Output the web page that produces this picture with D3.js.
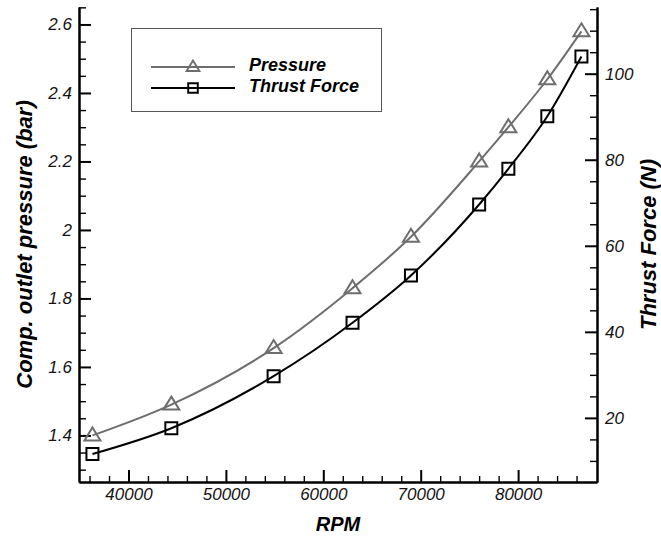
<!DOCTYPE html>
<html>
<head>
<meta charset="utf-8">
<script src="https://cdn.jsdelivr.net/npm/d3@7"></script>
<style>
  html, body { margin: 0; padding: 0; background: #fff; }
  svg { display: block; font-family: "Liberation Sans", Arial, sans-serif; }
  .tick text { font-style: italic; font-size: 17px; fill: #141414; }
</style>
</head>
<body>
<div id="chart"></div>
<script>
// values
const rpm = [36300, 44400, 54900, 63000, 69000, 76000, 79000, 83000, 86500]
const pressure = [1.40, 1.49, 1.655, 1.83, 1.98, 2.20, 2.30, 2.44, 2.58]
const thrust = [11.6, 17.6, 29.7, 42.1, 53.1, 69.6, 77.9, 90.1, 104.0]

const xMajor = [40000, 50000, 60000, 70000, 80000]
const pMajor = [1.4, 1.6, 1.8, 2.0, 2.2, 2.4, 2.6]
const tMajor = [20, 40, 60, 80, 100]

const seriesNames = ["Pressure", "Thrust Force"]

const width = 661, height = 538
const box = {left: 79, right: 597, top: 7, bottom: 482}
const grey = "#6e6e6e"

const svg = d3.select("#chart").append("svg")
  .attr("width", width)
  .attr("height", height)

const x = d3.scaleLinear().domain([34920, 88100]).range([box.left, box.right])
const yP = d3.scaleLinear().domain([1.264, 2.651]).range([box.bottom, box.top])
const yT = d3.scaleLinear().domain([5.1, 115.5]).range([box.bottom, box.top])

// minor ticks
const xMinor = d3.range(36000, 87000, 2000).filter(v => v % 10000 !== 0)
const pMinor = d3.range(1.30, 2.66, 0.05).map(v => +v.toFixed(2))
  .filter(v => !pMajor.some(m => Math.abs(m - v) < 1e-6))
const tMinor = d3.range(10, 116, 5).filter(v => v % 20 !== 0)

function styleAxis(g, major) {
  g.select(".domain").attr("stroke", "#000").attr("stroke-width", 2)
  g.selectAll(".tick line").attr("stroke", "#000").attr("stroke-width", major ? 2 : 1.4)
}

// bottom axis
svg.append("g")
  .attr("transform", `translate(0,${box.bottom})`)
  .call(d3.axisBottom(x).tickValues(xMinor).tickSizeInner(-6).tickSizeOuter(0).tickFormat(""))
  .call(g => styleAxis(g, false))
svg.append("g")
  .attr("transform", `translate(0,${box.bottom})`)
  .call(d3.axisBottom(x).tickValues(xMajor).tickSizeInner(-12).tickSizeOuter(0).tickPadding(6).tickFormat(d3.format("d")))
  .call(g => styleAxis(g, true))
  .call(g => g.selectAll("text").attr("font-size", 17).attr("font-family", null))

// left axis
svg.append("g")
  .attr("transform", `translate(${box.left},0)`)
  .call(d3.axisLeft(yP).tickValues(pMinor).tickSizeInner(-7).tickSizeOuter(0).tickFormat(""))
  .call(g => styleAxis(g, false))
svg.append("g")
  .attr("transform", `translate(${box.left},0)`)
  .call(d3.axisLeft(yP).tickValues(pMajor).tickSizeInner(-12).tickSizeOuter(0).tickPadding(7).tickFormat(d => String(+d.toFixed(1))))
  .call(g => styleAxis(g, true))
  .call(g => g.selectAll("text").attr("font-size", 17).attr("font-family", null))

// right axis
svg.append("g")
  .attr("transform", `translate(${box.right},0)`)
  .call(d3.axisRight(yT).tickValues(tMinor).tickSizeInner(-7).tickSizeOuter(0).tickFormat(""))
  .call(g => styleAxis(g, false))
svg.append("g")
  .attr("transform", `translate(${box.right},0)`)
  .call(d3.axisRight(yT).tickValues(tMajor).tickSizeInner(-12).tickSizeOuter(0).tickPadding(8).tickFormat(d3.format("d")))
  .call(g => styleAxis(g, true))
  .call(g => g.selectAll("text").attr("font-size", 17).attr("font-family", null))

// axis titles
svg.append("text")
  .attr("transform", `translate(24,${(box.top + box.bottom) / 2}) rotate(-90)`)
  .attr("text-anchor", "middle")
  .attr("dominant-baseline", "central")
  .attr("font-size", 22).attr("font-weight", "bold").attr("font-style", "italic")
  .text("Comp. outlet pressure (bar)")

svg.append("text")
  .attr("transform", `translate(648,${(box.top + box.bottom) / 2}) rotate(-90)`)
  .attr("text-anchor", "middle")
  .attr("dominant-baseline", "central")
  .attr("font-size", 22).attr("font-weight", "bold").attr("font-style", "italic")
  .text("Thrust Force (N)")

svg.append("text")
  .attr("x", (box.left + box.right) / 2)
  .attr("y", 524)
  .attr("text-anchor", "middle")
  .attr("dominant-baseline", "central")
  .attr("font-size", 20).attr("font-weight", "bold").attr("font-style", "italic")
  .text("RPM")

// markers
const triPath = "M0,-8L8,5L-8,5Z"
const sqPath = "M-6,-6H6V6H-6Z"

const lineP = d3.line().x((d, i) => x(rpm[i])).y(d => yP(d)).curve(d3.curveMonotoneX)
const lineT = d3.line().x((d, i) => x(rpm[i])).y(d => yT(d)).curve(d3.curveMonotoneX)

svg.append("path")
  .datum(pressure)
  .attr("fill", "none")
  .attr("stroke", grey)
  .attr("stroke-width", 2)
  .attr("d", lineP)

svg.append("path")
  .datum(thrust)
  .attr("fill", "none")
  .attr("stroke", "#000")
  .attr("stroke-width", 2)
  .attr("d", lineT)

svg.append("g").selectAll("path")
  .data(pressure)
  .join("path")
  .attr("transform", (d, i) => `translate(${x(rpm[i])},${yP(d)})`)
  .attr("d", triPath)
  .attr("fill", "none")
  .attr("stroke", grey)
  .attr("stroke-width", 2)

svg.append("g").selectAll("path")
  .data(thrust)
  .join("path")
  .attr("transform", (d, i) => `translate(${x(rpm[i])},${yT(d)})`)
  .attr("d", sqPath)
  .attr("fill", "none")
  .attr("stroke", "#000")
  .attr("stroke-width", 2)

// legend
const legend = svg.append("g")
legend.append("rect")
  .attr("x", 131.5).attr("y", 28.5)
  .attr("width", 250).attr("height", 83)
  .attr("fill", "#fff")
  .attr("stroke", "#555")
  .attr("stroke-width", 1)

const rows = [
  {name: seriesNames[0], color: grey, shape: triPath, y: 67},
  {name: seriesNames[1], color: "#000", shape: sqPath, y: 88}
]
rows.forEach(r => {
  legend.append("line")
    .attr("x1", 151).attr("x2", 235)
    .attr("y1", r.y).attr("y2", r.y)
    .attr("stroke", r.color).attr("stroke-width", 2)
  legend.append("path")
    .attr("transform", `translate(193,${r.y}) scale(0.8)`)
    .attr("d", r.shape)
    .attr("fill", "none")
    .attr("stroke", r.color)
    .attr("stroke-width", 2.4)
  legend.append("text")
    .attr("x", 249).attr("y", r.y - 2)
    .attr("dominant-baseline", "central")
    .attr("font-size", 18).attr("font-weight", "bold").attr("font-style", "italic")
    .text(r.name)
})
</script>
</body>
</html>
